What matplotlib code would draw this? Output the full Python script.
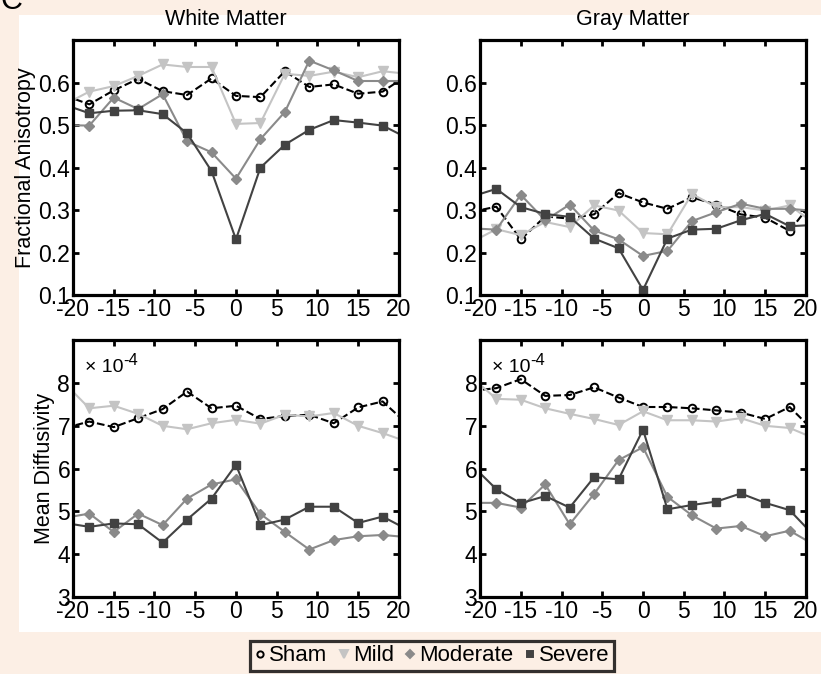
import numpy as np
import matplotlib
matplotlib.use("Agg")
from matplotlib import pyplot as plt
from matplotlib.patches import Rectangle
from matplotlib.lines import Line2D

plt.rcParams['font.family'] = ['Liberation Sans', 'DejaVu Sans']
plt.rcParams['axes.unicode_minus'] = False

# distance from lesion centre
pos = [-21, -18, -15, -12, -9, -6, -3, 0, 3, 6, 9, 12, 15, 18, 21]
groups = ['Sham', 'Mild', 'Moderate', 'Severe']

# fractional anisotropy, white matter
fa_wm_sham = [0.570, 0.549, 0.582, 0.609, 0.580, 0.571, 0.610, 0.569, 0.566, 0.627, 0.590, 0.596, 0.574, 0.579, 0.617]
fa_wm_mild = [0.549, 0.579, 0.592, 0.616, 0.643, 0.637, 0.637, 0.503, 0.505, 0.621, 0.616, 0.626, 0.613, 0.627, 0.621]
fa_wm_mod = [0.500, 0.499, 0.565, 0.538, 0.573, 0.462, 0.436, 0.374, 0.467, 0.531, 0.652, 0.629, 0.604, 0.604, 0.604]
fa_wm_sev = [0.548, 0.528, 0.534, 0.535, 0.526, 0.481, 0.392, 0.231, 0.400, 0.454, 0.489, 0.512, 0.506, 0.499, 0.470]

# fractional anisotropy, gray matter
fa_gm_sham = [0.296, 0.308, 0.231, 0.285, 0.280, 0.290, 0.340, 0.318, 0.303, 0.330, 0.313, 0.290, 0.282, 0.251, 0.325]
fa_gm_mild = [0.225, 0.255, 0.241, 0.272, 0.260, 0.311, 0.299, 0.246, 0.243, 0.338, 0.307, 0.307, 0.299, 0.311, 0.269]
fa_gm_mod = [0.257, 0.254, 0.336, 0.276, 0.313, 0.252, 0.231, 0.192, 0.204, 0.274, 0.295, 0.315, 0.303, 0.303, 0.298]
fa_gm_sev = [0.332, 0.350, 0.307, 0.291, 0.284, 0.233, 0.210, 0.112, 0.233, 0.254, 0.256, 0.276, 0.291, 0.262, 0.265]

# mean diffusivity (x 10^-4), white matter
md_wm_sham = [6.95, 7.10, 6.97, 7.18, 7.39, 7.80, 7.41, 7.47, 7.16, 7.23, 7.26, 7.06, 7.43, 7.57, 7.05]
md_wm_mild = [7.99, 7.41, 7.47, 7.28, 7.00, 6.92, 7.06, 7.14, 7.05, 7.26, 7.22, 7.30, 7.00, 6.83, 6.63]
md_wm_mod = [4.85, 4.95, 4.52, 4.95, 4.68, 5.30, 5.63, 5.75, 4.94, 4.52, 4.11, 4.33, 4.42, 4.45, 4.40]
md_wm_sev = [4.73, 4.64, 4.72, 4.70, 4.27, 4.81, 5.30, 6.09, 4.68, 4.81, 5.11, 5.11, 4.73, 4.88, 4.58]

# mean diffusivity (x 10^-4), gray matter
md_gm_sham = [7.82, 7.88, 8.09, 7.70, 7.72, 7.90, 7.66, 7.44, 7.44, 7.41, 7.36, 7.31, 7.16, 7.44, 6.87]
md_gm_mild = [8.13, 7.63, 7.61, 7.41, 7.28, 7.16, 7.02, 7.34, 7.13, 7.13, 7.10, 7.18, 7.00, 6.95, 6.71]
md_gm_mod = [5.20, 5.20, 5.09, 5.63, 4.70, 5.41, 6.20, 6.50, 5.34, 4.91, 4.60, 4.66, 4.42, 4.55, 4.22]
md_gm_sev = [6.08, 5.52, 5.19, 5.36, 5.09, 5.80, 5.75, 6.91, 5.05, 5.15, 5.23, 5.42, 5.20, 5.03, 4.43]

styles = {
    'Sham': dict(color='black', ls='--', marker='o', mfc='none', mec='black', ms=5.5, mew=1.4),
    'Mild': dict(color='#c4c4c4', ls='-', marker='v', mfc='#c4c4c4', mec='#c4c4c4', ms=7),
    'Moderate': dict(color='#8a8a8a', ls='-', marker='D', mfc='#8a8a8a', mec='#8a8a8a', ms=5.5),
    'Severe': dict(color='#424242', ls='-', marker='s', mfc='#424242', mec='#424242', ms=5.5),
}

panels = [
    ([0.0889, 0.5623, 0.397, 0.378], [fa_wm_sham, fa_wm_mild, fa_wm_mod, fa_wm_sev], (0.1, 0.7), np.arange(0.1, 0.61, 0.1), 'White Matter', 'Fractional Anisotropy', False),
    ([0.5847, 0.5623, 0.397, 0.378], [fa_gm_sham, fa_gm_mild, fa_gm_mod, fa_gm_sev], (0.1, 0.7), np.arange(0.1, 0.61, 0.1), 'Gray Matter', None, False),
    ([0.0889, 0.1142, 0.397, 0.381], [md_wm_sham, md_wm_mild, md_wm_mod, md_wm_sev], (3, 9), np.arange(3, 9), None, 'Mean Diffusivity', True),
    ([0.5847, 0.1142, 0.397, 0.381], [md_gm_sham, md_gm_mild, md_gm_mod, md_gm_sev], (3, 9), np.arange(3, 9), None, None, True),
]

fig = plt.figure(figsize=(8.21, 6.74), dpi=100)
fig.patch.set_facecolor('#fcefe5')
fig.patches.append(Rectangle((19 / 821, 1 - 632 / 674), 1, (632 - 15) / 674, transform=fig.transFigure,
                             facecolor='white', edgecolor='none', zorder=-10))
fig.text(0.0, 1 - 9 / 674, 'C', fontsize=22, ha='left', va='baseline')

for rect, series, ylim, yticks, title, ylabel, offset in panels:
    ax = fig.add_axes(rect)
    for g, vals in zip(groups, series):
        ax.plot(pos, vals, lw=1.5, **styles[g])
    ax.set_xlim(-20, 20)
    ax.set_ylim(*ylim)
    ax.set_xticks(range(-20, 21, 5))
    ax.set_yticks(yticks)
    if offset:
        ax.set_yticklabels([str(int(t)) for t in yticks])
        ax.text(0.037, 0.875, '\u00d7 10', transform=ax.transAxes, fontsize=14, va='baseline', ha='left')
        ax.text(0.153, 0.905, '-4', transform=ax.transAxes, fontsize=12, va='baseline', ha='left')
    else:
        ax.set_yticklabels(['%.1f' % t for t in yticks])
    ax.tick_params(direction='in', top=True, right=True, length=4, width=2, labelsize=16.5, pad=2)
    for s in ax.spines.values():
        s.set_linewidth(2.3)
    if title:
        ax.set_title(title, fontsize=15.5, pad=11, x=0.47)
    if ylabel:
        ax.set_ylabel(ylabel, fontsize=15.5, labelpad=2)

handles = [Line2D([], [], ls='none', marker=styles[g]['marker'], mfc=styles[g]['mfc'], mec=styles[g]['mec'],
                  ms=styles[g]['ms'] - 1, mew=1.4) for g in groups]
leg = fig.legend(handles, groups, loc='upper center', bbox_to_anchor=(432 / 821, 1 - 641 / 674), ncol=4,
                 fontsize=16, frameon=True, fancybox=False, handlelength=0.5, handletextpad=0.15,
                 columnspacing=0.5, borderpad=0.2, borderaxespad=0)
leg.get_frame().set_edgecolor('black')
leg.get_frame().set_linewidth(2.3)
leg.get_frame().set_facecolor('#fcefe5')

fig.savefig('out.png', dpi=100, facecolor=fig.get_facecolor())
